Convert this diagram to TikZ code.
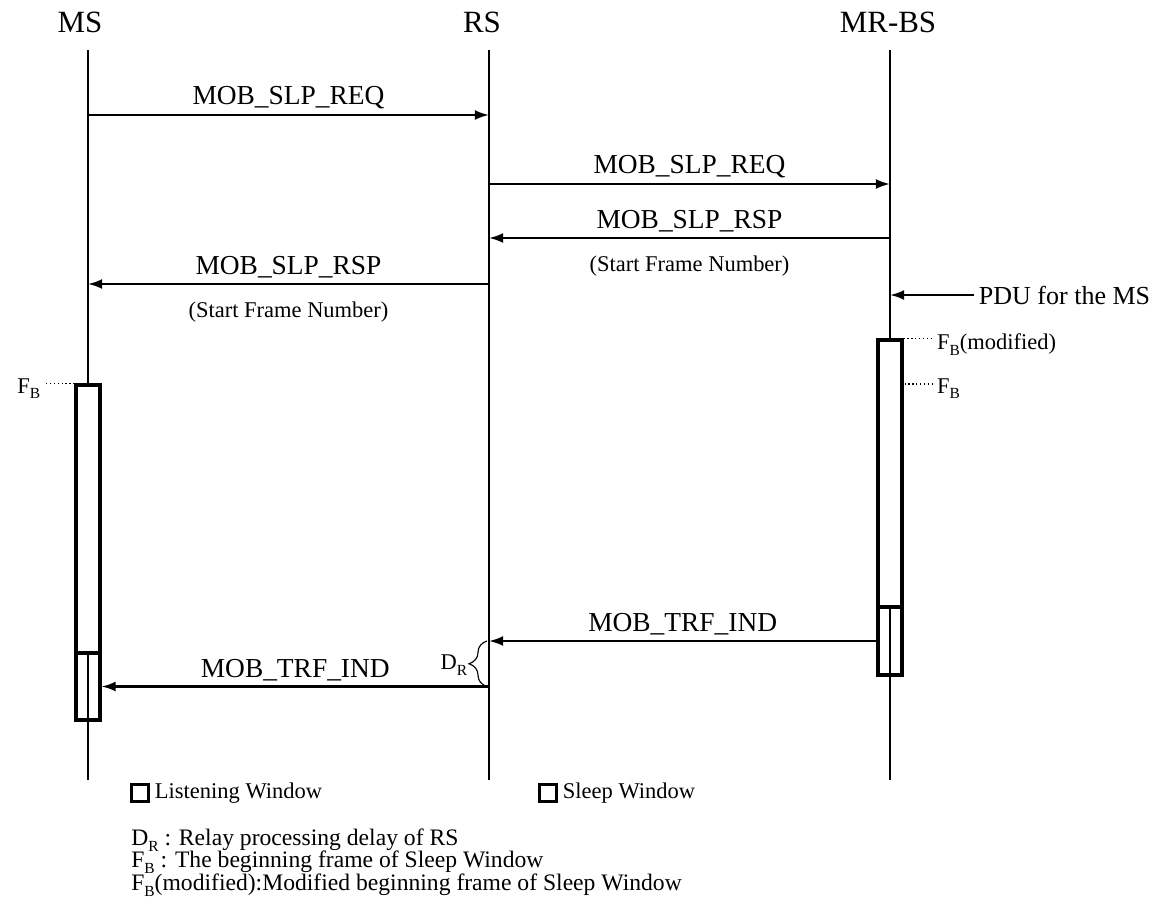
\documentclass[tikz,border=0pt]{standalone}
\usepackage{fontspec}
\setmainfont{Liberation Serif}
\usetikzlibrary{positioning,arrows.meta,decorations.pathreplacing}

\newcommand{\lowsub}[1]{\raisebox{-0.55ex}{\fontsize{11}{11}\selectfont #1}}

\begin{document}
\begin{tikzpicture}[
    >={Latex[length=10pt,width=7pt]},
    lifeline/.style={line width=0.8pt},
    msg/.style={->, line width=1.5pt},
    actor/.style={font=\fontsize{22}{26}\selectfont},
    msglabel/.style={font=\fontsize{19.5}{22}\selectfont},
    note/.style={font=\fontsize{16}{19}\selectfont},
    defn/.style={font=\fontsize{16.8}{19}\selectfont, anchor=west, inner sep=0pt},
    sleepwin/.style={rectangle, draw, fill=white, line width=2.2pt, inner sep=0pt, minimum width=0.6cm},
    listenwin/.style={rectangle, draw, line width=2.2pt, inner sep=0pt, minimum width=0.6cm},
    marker/.style={line width=0.8pt, dotted},
    legendbox/.style={rectangle, draw, line width=2.2pt, minimum size=0.42cm, inner sep=0pt}
]
\useasboundingbox (0,0) rectangle (29.125,-22.95);

% Actors
\node[actor] (ms) at (2.0,-0.56) {MS};
\node[actor] (rs) at (12.05,-0.56) {RS};
\node[actor] (bs) at (22.2,-0.56) {MR-BS};

% Lifelines
\coordinate (msT) at (2.2,-1.25);
\coordinate (msB) at (2.2,-19.5);
\coordinate (rsT) at (12.225,-1.25);
\coordinate (rsB) at (12.225,-19.5);
\coordinate (bsT) at (22.25,-1.25);
\coordinate (bsB) at (22.25,-19.5);
\draw[lifeline] (msT) -- (msB);
\draw[lifeline] (rsT) -- (rsB);
\draw[lifeline] (bsT) -- (bsB);

% Sleep request / response
\coordinate (ms1) at (2.2,-2.875);
\coordinate (rs1) at (12.225,-2.875);
\draw[msg] (ms1) -- node[msglabel, above] (req1) {MOB\_SLP\_REQ} (rs1);

\coordinate (rs2) at (12.225,-4.6);
\coordinate (bs2) at (22.25,-4.6);
\draw[msg] (rs2) -- node[msglabel, above] (req2) {MOB\_SLP\_REQ} (bs2);

\coordinate (bs3) at (22.25,-5.95);
\coordinate (rs3) at (12.225,-5.95);
\draw[msg] (bs3) -- node[msglabel, above] (rsp1) {MOB\_SLP\_RSP}
    node[note, below=0.3cm] (sfn1) {(Start Frame Number)} (rs3);

\coordinate (rs4) at (12.225,-7.1);
\coordinate (ms4) at (2.2,-7.1);
\draw[msg] (rs4) -- node[msglabel, above] (rsp2) {MOB\_SLP\_RSP}
    node[note, below=0.3cm] (sfn2) {(Start Frame Number)} (ms4);

% Incoming PDU
\node[msglabel, font=\fontsize{18.5}{21}\selectfont, anchor=west] (pdu) at (24.35,-7.375) {PDU for the MS};
\coordinate (bs7) at (22.25,-7.375);
\draw[msg] (pdu.west) -- (bs7);

% Windows
\node[sleepwin, minimum height=6.7cm] (mssleep) at (2.2,-12.975) {};
\node[listenwin, minimum height=1.675cm] (mslisten) at (2.2,-17.1625) {};
\node[sleepwin, minimum height=6.675cm] (bssleep) at (22.25,-11.8375) {};
\node[listenwin, minimum height=1.7cm] (bslisten) at (22.25,-16.025) {};

% Beginning frames
\node[note, anchor=east, inner sep=2.5pt] (fbms) at (1.1,-9.72) {F\lowsub{B}};
\draw[marker] (mssleep.north west) -- (mssleep.north west -| fbms.east);
\node[note, anchor=west, inner sep=2.5pt] (fbmod) at (23.33,-8.62) {F\lowsub{B}(modified)};
\draw[marker] (bssleep.north east) -- (bssleep.north east -| fbmod.west);
\node[note, anchor=west, inner sep=2.5pt] (fbbs) at (23.33,-9.72) {F\lowsub{B}};
\coordinate (fbbsL) at ([yshift=0.12cm]fbbs.west);
\draw[marker] (fbbsL) -- (fbbsL -| bssleep.east);

% Traffic indication
\coordinate (rs5) at (12.225,-16.025);
\draw[msg] (bslisten.west) -- node[msglabel, above] (trf1) {MOB\_TRF\_IND} (rs5);
\coordinate (rs6) at (12.225,-17.1625);
\draw[msg] (rs6) -- node[msglabel, above] (trf2) {MOB\_TRF\_IND} (mslisten.east);

% Relay delay
\draw[lifeline, decorate, decoration={brace, amplitude=0.45cm}]
    ([xshift=-0.05cm]rs6) -- ([xshift=-0.05cm]rs5);
\node[note, anchor=east, inner sep=1pt] (dr) at (11.72,-16.62) {D\lowsub{R}};

% Legend
\node[legendbox] (lwbox) at (3.5,-19.825) {};
\node[note, right=0pt of lwbox] (lwtext) {Listening Window};
\node[legendbox] (swbox) at (13.7,-19.825) {};
\node[note, right=0pt of swbox] (swtext) {Sleep Window};

\node[defn] (drdef) at (3.275,-21.0) {D\lowsub{R} : Relay processing delay of RS};
\node[defn] (fbdef) at (3.275,-21.56) {F\lowsub{B} : The beginning frame of Sleep Window};
\node[defn] (fmdef) at (3.275,-22.13) {F\lowsub{B}(modified):Modified beginning frame of Sleep Window};

\end{tikzpicture}
\end{document}
